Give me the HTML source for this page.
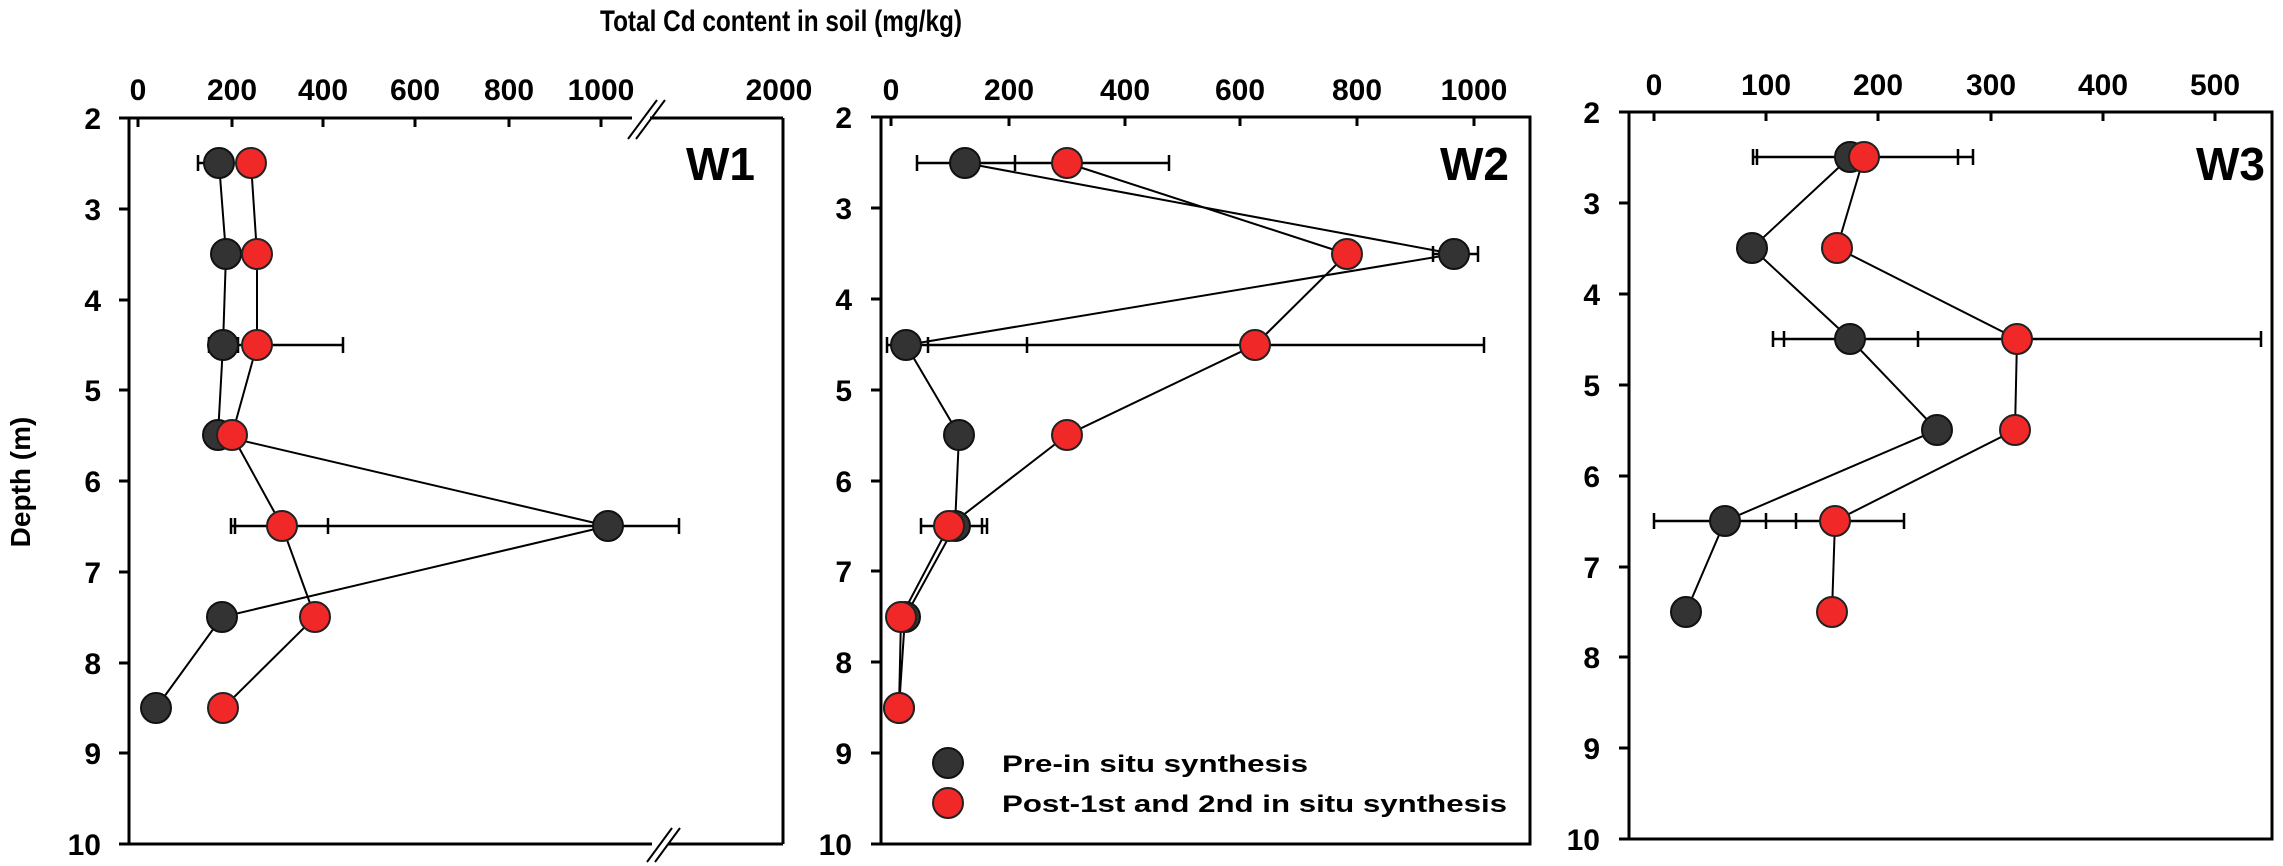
<!DOCTYPE html>
<html><head><meta charset="utf-8"><style>
html,body{margin:0;padding:0;background:#fff;}
svg{display:block;}
text{font-family:"Liberation Sans",Arial,sans-serif;font-weight:bold;fill:#000;}
</style></head><body>
<svg width="2283" height="866" viewBox="0 0 2283 866" xmlns="http://www.w3.org/2000/svg">
<text x="781" y="31" font-size="30" text-anchor="middle" textLength="362" lengthAdjust="spacingAndGlyphs">Total Cd content in soil (mg/kg)</text>
<text transform="translate(30,482) rotate(-90)" font-size="28" text-anchor="middle">Depth (m)</text>

<g stroke="#000" stroke-width="3" fill="none">
<line x1="119" y1="118" x2="632" y2="118"/><line x1="650" y1="118" x2="783" y2="118"/>
<line x1="783" y1="118" x2="783" y2="844"/>
<line x1="119" y1="844" x2="652" y2="844"/><line x1="668" y1="844" x2="783" y2="844"/>
<line x1="129" y1="118" x2="129" y2="844"/>
<rect x="881" y="117" width="649" height="727"/>
<line x1="871" y1="117" x2="881" y2="117"/><line x1="871" y1="844" x2="881" y2="844"/>
<rect x="1629" y="112" width="643" height="727"/>
<line x1="1619" y1="112" x2="1629" y2="112"/><line x1="1619" y1="839" x2="1629" y2="839"/>
</g>
<g stroke="#000" stroke-width="2">
<line x1="628" y1="139" x2="657" y2="100"/><line x1="636" y1="139" x2="665" y2="100"/>
<line x1="647" y1="862" x2="672" y2="828"/><line x1="655" y1="862" x2="680" y2="828"/>
</g>

<g stroke="#000" stroke-width="3">
<line x1="138" y1="118" x2="138" y2="127"/><line x1="232" y1="118" x2="232" y2="127"/><line x1="323" y1="118" x2="323" y2="127"/><line x1="415" y1="118" x2="415" y2="127"/><line x1="509" y1="118" x2="509" y2="127"/><line x1="601" y1="118" x2="601" y2="127"/>
<line x1="119" y1="209" x2="129" y2="209"/><line x1="119" y1="300" x2="129" y2="300"/><line x1="119" y1="390" x2="129" y2="390"/><line x1="119" y1="481" x2="129" y2="481"/><line x1="119" y1="572" x2="129" y2="572"/><line x1="119" y1="663" x2="129" y2="663"/><line x1="119" y1="753" x2="129" y2="753"/>
<line x1="891" y1="117" x2="891" y2="126"/><line x1="1009" y1="117" x2="1009" y2="126"/><line x1="1125" y1="117" x2="1125" y2="126"/><line x1="1240" y1="117" x2="1240" y2="126"/><line x1="1357" y1="117" x2="1357" y2="126"/><line x1="1474" y1="117" x2="1474" y2="126"/>
<line x1="871" y1="208" x2="881" y2="208"/><line x1="871" y1="299" x2="881" y2="299"/><line x1="871" y1="390" x2="881" y2="390"/><line x1="871" y1="481" x2="881" y2="481"/><line x1="871" y1="571" x2="881" y2="571"/><line x1="871" y1="662" x2="881" y2="662"/><line x1="871" y1="753" x2="881" y2="753"/>
<line x1="1654" y1="112" x2="1654" y2="121"/><line x1="1766" y1="112" x2="1766" y2="121"/><line x1="1878" y1="112" x2="1878" y2="121"/><line x1="1991" y1="112" x2="1991" y2="121"/><line x1="2103" y1="112" x2="2103" y2="121"/><line x1="2215" y1="112" x2="2215" y2="121"/>
<line x1="1619" y1="203" x2="1629" y2="203"/><line x1="1619" y1="294" x2="1629" y2="294"/><line x1="1619" y1="385" x2="1629" y2="385"/><line x1="1619" y1="476" x2="1629" y2="476"/><line x1="1619" y1="567" x2="1629" y2="567"/><line x1="1619" y1="657" x2="1629" y2="657"/><line x1="1619" y1="748" x2="1629" y2="748"/>
</g>

<g font-size="30" text-anchor="middle">
<text x="138" y="100">0</text><text x="232" y="100">200</text><text x="323" y="100">400</text><text x="415" y="100">600</text><text x="509" y="100">800</text><text x="601" y="100">1000</text><text x="779" y="100">2000</text>
<text x="891" y="100">0</text><text x="1009" y="100">200</text><text x="1125" y="100">400</text><text x="1240" y="100">600</text><text x="1357" y="100">800</text><text x="1474" y="100">1000</text>
<text x="1654" y="95">0</text><text x="1766" y="95">100</text><text x="1878" y="95">200</text><text x="1991" y="95">300</text><text x="2103" y="95">400</text><text x="2215" y="95">500</text>
</g>
<g font-size="30" text-anchor="end">
<text x="101" y="129">2</text><text x="101" y="220">3</text><text x="101" y="311">4</text><text x="101" y="401">5</text><text x="101" y="492">6</text><text x="101" y="583">7</text><text x="101" y="674">8</text><text x="101" y="764">9</text><text x="101" y="855">10</text>
<text x="852" y="128">2</text><text x="852" y="219">3</text><text x="852" y="310">4</text><text x="852" y="401">5</text><text x="852" y="492">6</text><text x="852" y="582">7</text><text x="852" y="673">8</text><text x="852" y="764">9</text><text x="852" y="855">10</text>
<text x="1600" y="123">2</text><text x="1600" y="214">3</text><text x="1600" y="305">4</text><text x="1600" y="396">5</text><text x="1600" y="487">6</text><text x="1600" y="578">7</text><text x="1600" y="668">8</text><text x="1600" y="759">9</text><text x="1600" y="850">10</text>
</g>
<g font-size="46" text-anchor="end">
<text x="755" y="180">W1</text><text x="1509" y="180">W2</text><text x="2265" y="180">W3</text>
</g>

<g stroke="#000" stroke-width="2" fill="none">
<polyline points="219,163 226,254 223,345 218,435 608,526 222,617 156,708"/>
<polyline points="251,163 257,254 257,345 232,435 282,526 315,617 223,708"/>
<polyline points="965,163 1454,254 906,345 959,435 955,526 905,617 899,708"/>
<polyline points="1067,163 1347,254 1255,345 1067,435 949,526 901,617 899,708"/>
<polyline points="1850,157 1752,248 1850,339 1937,430 1725,521 1686,612"/>
<polyline points="1864,157 1837,248 2017,339 2015,430 1835,521 1832,612"/>
</g>
<g stroke="#000" stroke-width="2.5" fill="none">
<path d="M198,163H219M198,155V171"/>
<path d="M209,345H343M209,337V353M238,337V353M343,337V353"/>
<path d="M231,526H679M231,518V534M235,518V534M328,518V534M679,518V534"/>
<path d="M917,163H1169M917,155V171M1015,155V171M1169,155V171"/>
<path d="M1433,254H1478M1433,246V262M1478,246V262"/>
<path d="M887,345H1484M887,337V353M928,337V353M1027,337V353M1484,337V353"/>
<path d="M921,526H987M921,518V534M982,518V534M987,518V534"/>
<path d="M1753,157H1973M1753,149V165M1757,149V165M1958,149V165M1973,149V165"/>
<path d="M1773,339H2261M1773,331V347M1784,331V347M1918,331V347M2261,331V347"/>
<path d="M1654,521H1904M1654,513V529M1766,513V529M1796,513V529M1904,513V529"/>
</g>
<g stroke="#111" stroke-width="2" fill="#333">
<circle cx="219" cy="163" r="15"/><circle cx="226" cy="254" r="15"/><circle cx="223" cy="345" r="15"/><circle cx="218" cy="435" r="15"/><circle cx="608" cy="526" r="15"/><circle cx="222" cy="617" r="15"/><circle cx="156" cy="708" r="15"/>
<circle cx="965" cy="163" r="15"/><circle cx="1454" cy="254" r="15"/><circle cx="906" cy="345" r="15"/><circle cx="959" cy="435" r="15"/><circle cx="955" cy="526" r="15"/><circle cx="905" cy="617" r="15"/><circle cx="899" cy="708" r="15"/>
<circle cx="1850" cy="157" r="15"/><circle cx="1752" cy="248" r="15"/><circle cx="1850" cy="339" r="15"/><circle cx="1937" cy="430" r="15"/><circle cx="1725" cy="521" r="15"/><circle cx="1686" cy="612" r="15"/>
<circle cx="948" cy="763" r="15"/>
</g>
<g stroke="#222" stroke-width="2" fill="#f02828">
<circle cx="251" cy="163" r="15"/><circle cx="257" cy="254" r="15"/><circle cx="257" cy="345" r="15"/><circle cx="232" cy="435" r="15"/><circle cx="282" cy="526" r="15"/><circle cx="315" cy="617" r="15"/><circle cx="223" cy="708" r="15"/>
<circle cx="1067" cy="163" r="15"/><circle cx="1347" cy="254" r="15"/><circle cx="1255" cy="345" r="15"/><circle cx="1067" cy="435" r="15"/><circle cx="949" cy="526" r="15"/><circle cx="901" cy="617" r="15"/><circle cx="899" cy="708" r="15"/>
<circle cx="1864" cy="157" r="15"/><circle cx="1837" cy="248" r="15"/><circle cx="2017" cy="339" r="15"/><circle cx="2015" cy="430" r="15"/><circle cx="1835" cy="521" r="15"/><circle cx="1832" cy="612" r="15"/>
<circle cx="948" cy="803" r="15"/>
</g>
<text x="1002" y="772" font-size="24" textLength="306" lengthAdjust="spacingAndGlyphs">Pre-in situ synthesis</text>
<text x="1002" y="812" font-size="24" textLength="505" lengthAdjust="spacingAndGlyphs">Post-1st and 2nd in situ synthesis</text>
</svg>
</body></html>
